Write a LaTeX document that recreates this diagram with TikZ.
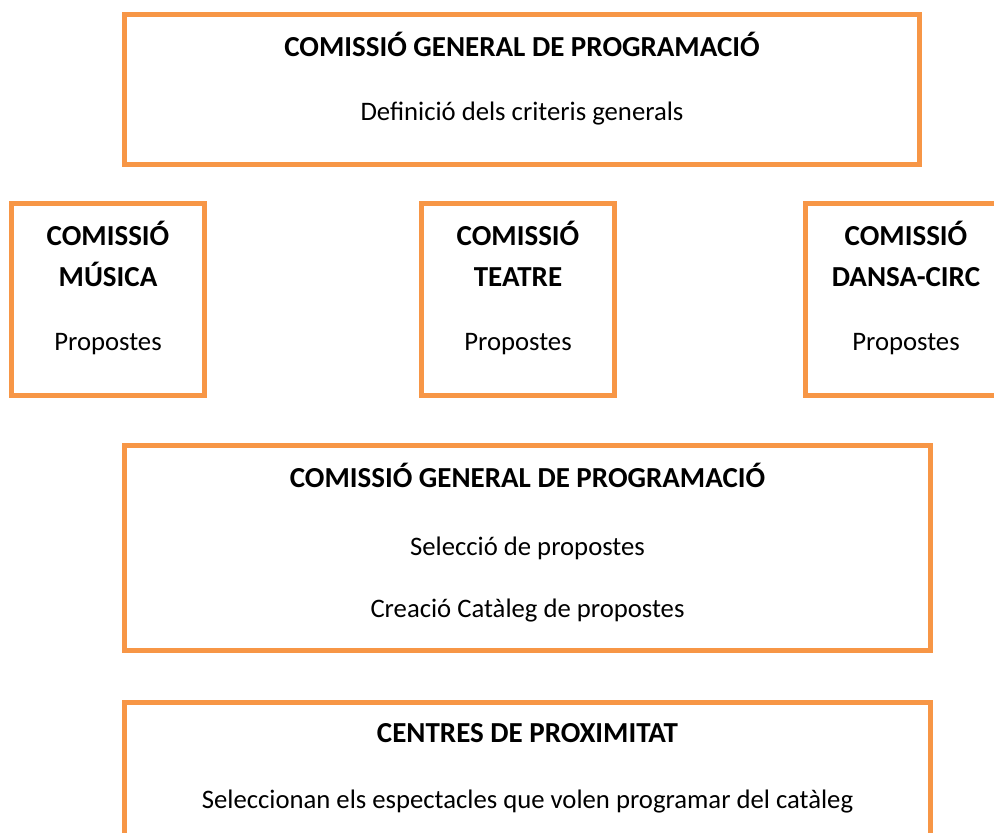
\documentclass[tikz,border=0pt]{standalone}
\usepackage{fontspec}
\setmainfont{Carlito}
\definecolor{boxorange}{HTML}{F79646}
\begin{document}
\begin{tikzpicture}[x=1pt,y=-1pt,
  framebox/.style={draw=boxorange, line width=5pt, rectangle, inner sep=0pt, outer sep=0pt},
  headtext/.style={anchor=base, inner sep=0pt, font=\fontsize{29}{34}\selectfont\bfseries},
  bodytext/.style={anchor=base, inner sep=0pt, font=\fontsize{26.7}{32}\selectfont}]
\useasboundingbox (0,0) rectangle (994,833);
\clip (0,0) rectangle (994,833);
% boxes
\node[framebox, minimum width=795pt, minimum height=150pt] (topbox) at (522,89.5) {};
\node[framebox, minimum width=193pt, minimum height=192pt] (musbox) at (108,299.5) {};
\node[framebox, minimum width=193pt, minimum height=192pt] (teabox) at (518,299.5) {};
\node[framebox, minimum width=193pt, minimum height=192pt] (danbox) at (902,299.5) {};
\node[framebox, minimum width=806pt, minimum height=205pt] (midbox) at (527.5,548) {};
\node[framebox, minimum width=806pt, minimum height=197.5pt] (botbox) at (527.5,801.25) {};
% texts
\node[headtext] (t1) at (522,56) {COMISSIÓ GENERAL DE PROGRAMACIÓ};
\node[bodytext] (t2) at (522,120) {Definició dels criteris generals};
\node[headtext] (m1) at (108,245) {COMISSIÓ};
\node[headtext] (m2) at (108,286) {MÚSICA};
\node[bodytext] (m3) at (108,350) {Propostes};
\node[headtext] (e1) at (518,245) {COMISSIÓ};
\node[headtext] (e2) at (518,286) {TEATRE};
\node[bodytext] (e3) at (518,350) {Propostes};
\node[headtext] (d1) at (906,245) {COMISSIÓ};
\node[headtext] (d2) at (906,286) {DANSA-CIRC};
\node[bodytext] (d3) at (906,350) {Propostes};
\node[headtext] (g1) at (527.5,487) {COMISSIÓ GENERAL DE PROGRAMACIÓ};
\node[bodytext] (g2) at (527.5,555) {Selecció de propostes};
\node[bodytext] (g3) at (527.5,617) {Creació Catàleg de propostes};
\node[headtext] (c1) at (527.5,742) {CENTRES DE PROXIMITAT};
\node[bodytext] (c2) at (527.5,808) {Seleccionan els espectacles que volen programar del catàleg};
\end{tikzpicture}
\end{document}
